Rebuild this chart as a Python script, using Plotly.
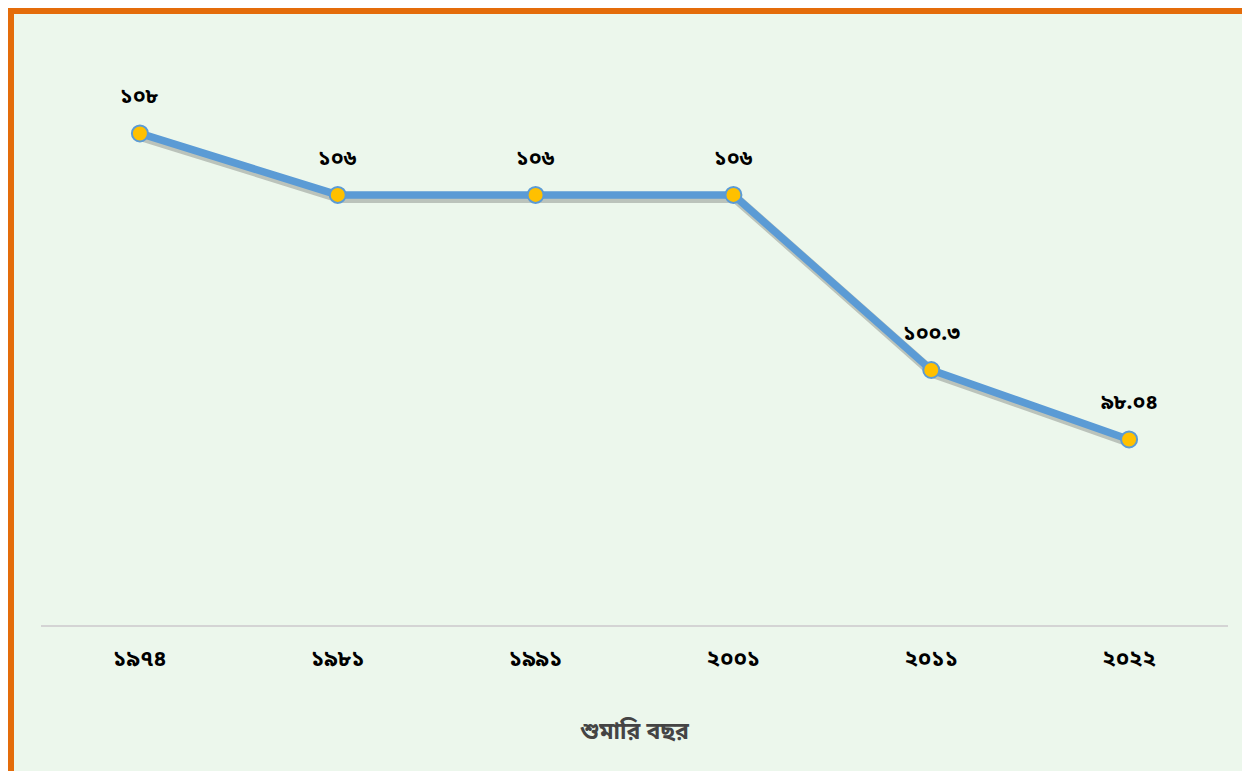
import plotly.graph_objects as go

years = ["১৯৭৪", "১৯৮১", "১৯৯১", "২০০১", "২০১১", "২০২২"]
sex_ratio = [108, 106, 106, 106, 100.3, 98.04]
value_labels = ["১০৮", "১০৬", "১০৬", "১০৬", "১০০.৩", "৯৮.০৪"]
x_title = "শুমারি বছর"

FONT = "Noto Sans Bengali, Noto Sans, DejaVu Sans, sans-serif"
W, H = 1250, 771
ML, MR, MT, MB = 33, 30, 64, 154
PW = W - ML - MR
PH = H - MT - MB
X_RANGE = [-0.5, 5.5]
Y_RANGE = [92, 110]
px_x = (X_RANGE[1] - X_RANGE[0]) / PW
px_y = (Y_RANGE[1] - Y_RANGE[0]) / PH

fig = go.Figure()

# soft shadow under the line (same data on base axes shifted by a few pixels)
fig.add_trace(go.Scatter(
    x=years, y=sex_ratio, mode="lines",
    line=dict(color="rgba(40,40,40,0.25)", width=10),
    xaxis="x", yaxis="y", hoverinfo="skip", showlegend=False,
))

fig.add_trace(go.Scatter(
    x=years, y=sex_ratio, mode="lines+markers",
    line=dict(color="#5B9BD5", width=7.5),
    marker=dict(size=16, color="#FFC000", line=dict(color="#5B9BD5", width=2)),
    xaxis="x2", yaxis="y2", showlegend=False,
))

for xv, yv, lab in zip(years, sex_ratio, value_labels):
    fig.add_annotation(
        x=xv, y=yv, xref="x2", yref="y2", text=lab, showarrow=False,
        yshift=35, font=dict(family=FONT, size=21, color="#000000", weight="bold"),
    )

fig.add_shape(
    type="rect", xref="paper", yref="paper",
    x0=(3 - ML) / PW, x1=(W - 3 - ML) / PW,
    y0=(PH + MT - (H - 3)) / PH, y1=(PH + MT - 3) / PH,
    line=dict(color="#E46C0A", width=6), fillcolor="rgba(0,0,0,0)", layer="below",
)

fig.update_layout(
    width=W, height=H,
    margin=dict(l=ML, r=MR, t=MT, b=MB, pad=0),
    paper_bgcolor="#ECF7EC", plot_bgcolor="rgba(0,0,0,0)",
    font=dict(family=FONT),
    xaxis=dict(
        type="category", categoryorder="array", categoryarray=years,
        range=[X_RANGE[0] - 2 * px_x, X_RANGE[1] - 2 * px_x], visible=False,
    ),
    yaxis=dict(range=[Y_RANGE[0] + 3 * px_y, Y_RANGE[1] + 3 * px_y], visible=False),
    xaxis2=dict(
        type="category", categoryorder="array", categoryarray=years,
        overlaying="x", anchor="y2", side="bottom", range=X_RANGE,
        showline=True, linecolor="#D4D4D4", linewidth=2, showgrid=False, zeroline=False,
        ticks="outside", ticklen=13, tickcolor="rgba(0,0,0,0)",
        tickfont=dict(family=FONT, size=22, color="#000000", weight="bold"),
        title=dict(text=x_title, standoff=48,
                   font=dict(family=FONT, size=23, color="#444444", weight="bold")),
    ),
    yaxis2=dict(overlaying="y", range=Y_RANGE, visible=False, showgrid=False, zeroline=False),
)

fig.write_html("out.html")
